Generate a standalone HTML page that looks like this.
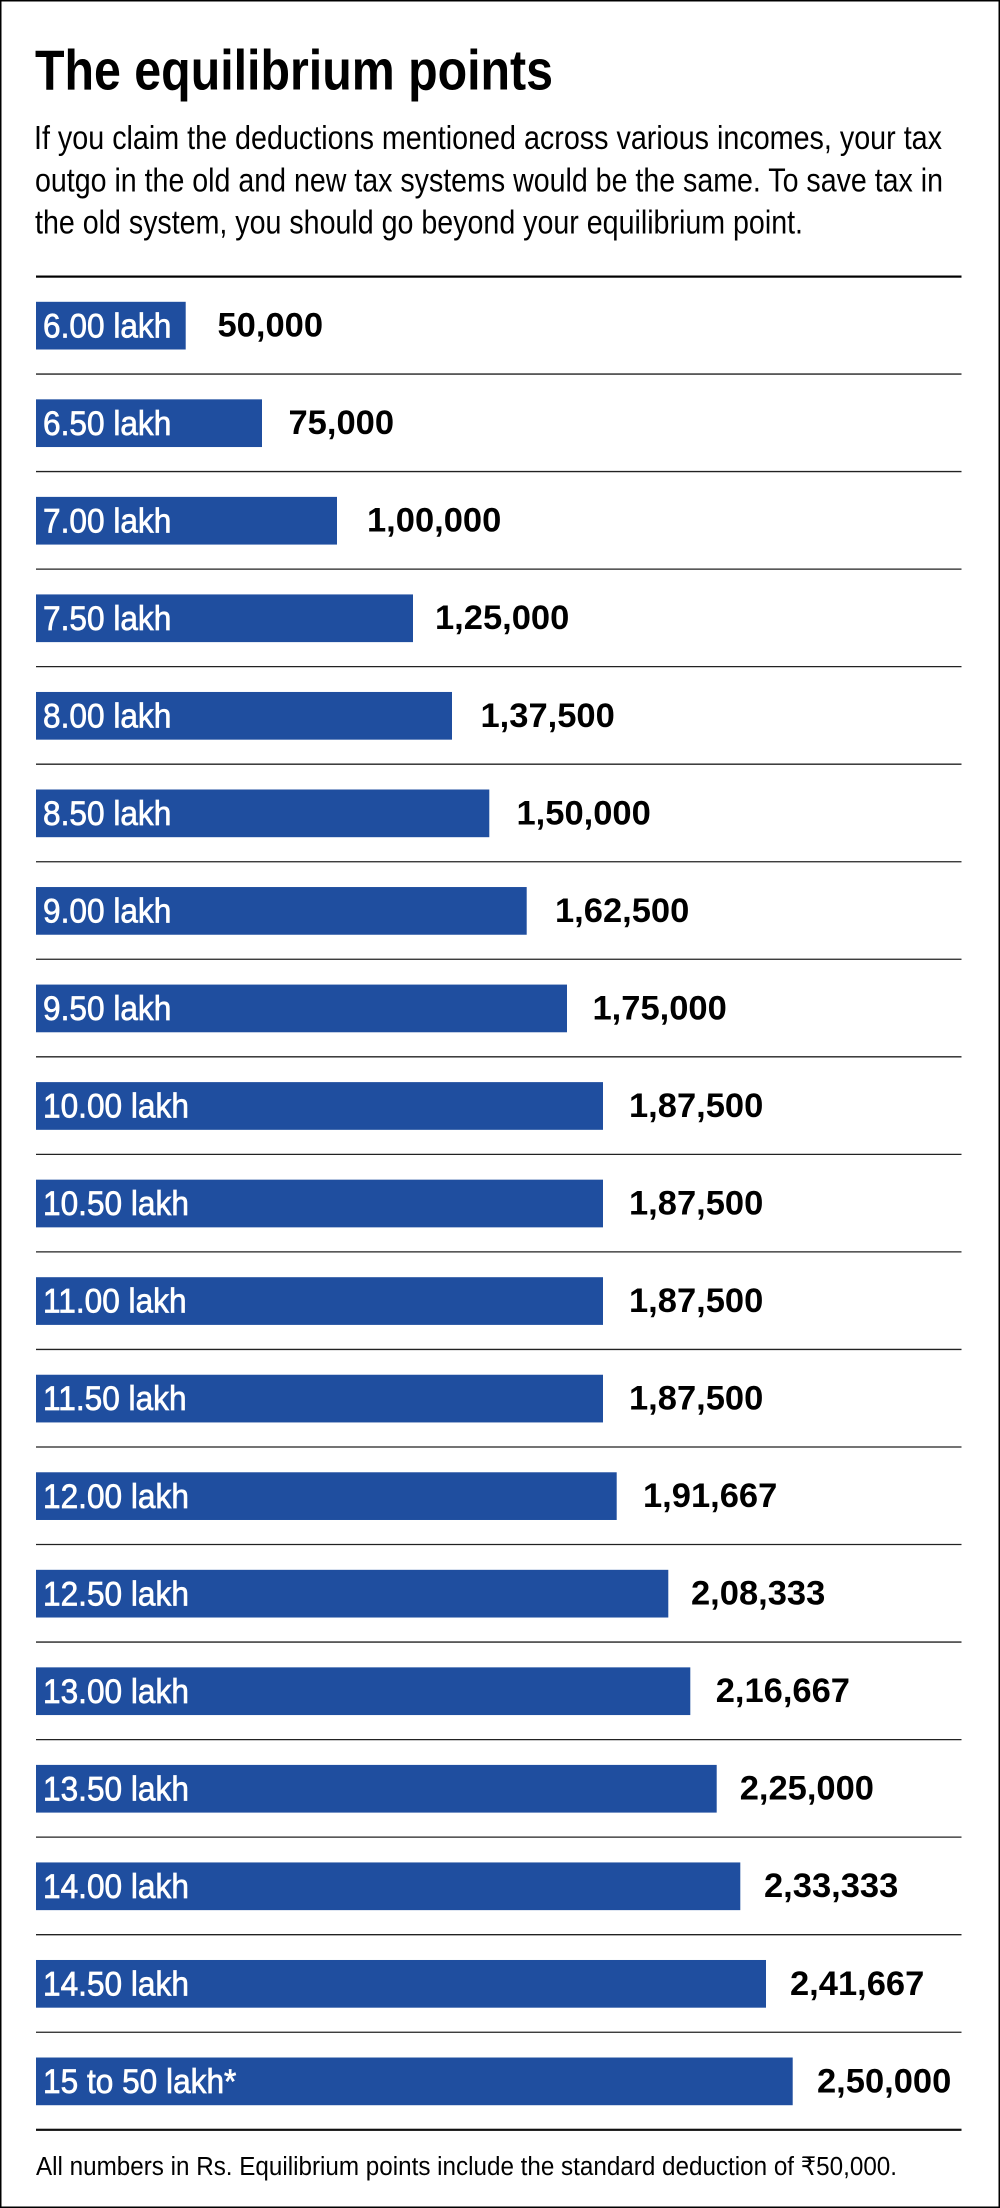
<!DOCTYPE html>
<html>
<head>
<meta charset="utf-8">
<style>
  html,body{margin:0;padding:0;background:#fff;}
  body{width:1000px;height:2208px;overflow:hidden;}
  svg{display:block;}
  .t{font-family:"Liberation Sans",Arial,sans-serif;}
  .lab{font-family:"Liberation Sans",Arial,sans-serif;font-size:34px;fill:#fff;stroke:#fff;stroke-width:0.7px;}
  .val{font-family:"Liberation Sans",Arial,sans-serif;font-size:34.5px;font-weight:bold;fill:#000;}
</style>
</head>
<body>
<svg width="1000" height="2208" viewBox="0 0 1000 2208" xmlns="http://www.w3.org/2000/svg">
  <rect x="0" y="0" width="1000" height="2208" fill="#fff"/>
  <rect x="0.75" y="0.75" width="998.5" height="2206.5" fill="none" stroke="#000" stroke-width="1.5"/>

  <!-- Title -->
  <text class="t" x="35" y="89.3" font-size="57" font-weight="bold" textLength="518" lengthAdjust="spacingAndGlyphs">The equilibrium points</text>

  <!-- Intro paragraph -->
  <text class="t" x="34" y="149" font-size="33.5" textLength="908" lengthAdjust="spacingAndGlyphs">If you claim the deductions mentioned across various incomes, your tax</text>
  <text class="t" x="35" y="191.5" font-size="33.5" textLength="908" lengthAdjust="spacingAndGlyphs">outgo in the old and new tax systems would be the same. To save tax in</text>
  <text class="t" x="35" y="233.5" font-size="33.5" textLength="768" lengthAdjust="spacingAndGlyphs">the old system, you should go beyond your equilibrium point.</text>

  <!-- Thick top / bottom rules -->
  <rect x="36" y="275.5" width="925.5" height="2.2" fill="#000"/>
  <rect x="36" y="2128.7" width="925.5" height="2.2" fill="#111"/>

  <!-- Row dividers -->
  <g stroke="#222" stroke-width="1.3">
    <line x1="36" x2="961.5" y1="374.04" y2="374.04"/>
    <line x1="36" x2="961.5" y1="471.58" y2="471.58"/>
    <line x1="36" x2="961.5" y1="569.12" y2="569.12"/>
    <line x1="36" x2="961.5" y1="666.66" y2="666.66"/>
    <line x1="36" x2="961.5" y1="764.2" y2="764.2"/>
    <line x1="36" x2="961.5" y1="861.74" y2="861.74"/>
    <line x1="36" x2="961.5" y1="959.28" y2="959.28"/>
    <line x1="36" x2="961.5" y1="1056.82" y2="1056.82"/>
    <line x1="36" x2="961.5" y1="1154.36" y2="1154.36"/>
    <line x1="36" x2="961.5" y1="1251.9" y2="1251.9"/>
    <line x1="36" x2="961.5" y1="1349.44" y2="1349.44"/>
    <line x1="36" x2="961.5" y1="1446.98" y2="1446.98"/>
    <line x1="36" x2="961.5" y1="1544.52" y2="1544.52"/>
    <line x1="36" x2="961.5" y1="1642.06" y2="1642.06"/>
    <line x1="36" x2="961.5" y1="1739.6" y2="1739.6"/>
    <line x1="36" x2="961.5" y1="1837.14" y2="1837.14"/>
    <line x1="36" x2="961.5" y1="1934.68" y2="1934.68"/>
    <line x1="36" x2="961.5" y1="2032.22" y2="2032.22"/>
  </g>

  <!-- Bars -->
  <g fill="#1f4e9f">
    <rect x="36" y="301.8" width="149.7" height="47.7"/>
    <rect x="36" y="399.34" width="226" height="47.7"/>
    <rect x="36" y="496.88" width="301" height="47.7"/>
    <rect x="36" y="594.42" width="377" height="47.7"/>
    <rect x="36" y="691.96" width="416" height="47.7"/>
    <rect x="36" y="789.5" width="453.3" height="47.7"/>
    <rect x="36" y="887.04" width="490.7" height="47.7"/>
    <rect x="36" y="984.58" width="531" height="47.7"/>
    <rect x="36" y="1082.12" width="567" height="47.7"/>
    <rect x="36" y="1179.66" width="567" height="47.7"/>
    <rect x="36" y="1277.2" width="567" height="47.7"/>
    <rect x="36" y="1374.74" width="567" height="47.7"/>
    <rect x="36" y="1472.28" width="580.7" height="47.7"/>
    <rect x="36" y="1569.82" width="632.3" height="47.7"/>
    <rect x="36" y="1667.36" width="654.3" height="47.7"/>
    <rect x="36" y="1764.9" width="680.7" height="47.7"/>
    <rect x="36" y="1862.44" width="704.3" height="47.7"/>
    <rect x="36" y="1959.98" width="730" height="47.7"/>
    <rect x="36" y="2057.52" width="756.7" height="47.7"/>
  </g>

  <!-- Bar labels -->
  <g class="lab">
    <text transform="translate(43,337.3) scale(0.93,1)">6.00 lakh</text>
    <text transform="translate(43,434.84) scale(0.93,1)">6.50 lakh</text>
    <text transform="translate(43,532.38) scale(0.93,1)">7.00 lakh</text>
    <text transform="translate(43,629.92) scale(0.93,1)">7.50 lakh</text>
    <text transform="translate(43,727.46) scale(0.93,1)">8.00 lakh</text>
    <text transform="translate(43,825) scale(0.93,1)">8.50 lakh</text>
    <text transform="translate(43,922.54) scale(0.93,1)">9.00 lakh</text>
    <text transform="translate(43,1020.08) scale(0.93,1)">9.50 lakh</text>
    <text transform="translate(43,1117.62) scale(0.93,1)">10.00 lakh</text>
    <text transform="translate(43,1215.16) scale(0.93,1)">10.50 lakh</text>
    <text transform="translate(43,1312.7) scale(0.93,1)">11.00 lakh</text>
    <text transform="translate(43,1410.24) scale(0.93,1)">11.50 lakh</text>
    <text transform="translate(43,1507.78) scale(0.93,1)">12.00 lakh</text>
    <text transform="translate(43,1605.32) scale(0.93,1)">12.50 lakh</text>
    <text transform="translate(43,1702.86) scale(0.93,1)">13.00 lakh</text>
    <text transform="translate(43,1800.4) scale(0.93,1)">13.50 lakh</text>
    <text transform="translate(43,1897.94) scale(0.93,1)">14.00 lakh</text>
    <text transform="translate(43,1995.48) scale(0.93,1)">14.50 lakh</text>
    <text transform="translate(43,2093.02) scale(0.93,1)">15 to 50 lakh*</text>
  </g>

  <!-- Values -->
  <g class="val">
    <text x="217.5" y="336.6">50,000</text>
    <text x="288.5" y="434.14">75,000</text>
    <text x="367" y="531.68">1,00,000</text>
    <text x="435" y="629.22">1,25,000</text>
    <text x="480.5" y="726.76">1,37,500</text>
    <text x="516.5" y="824.3">1,50,000</text>
    <text x="555" y="921.84">1,62,500</text>
    <text x="592.5" y="1019.38">1,75,000</text>
    <text x="629" y="1116.92">1,87,500</text>
    <text x="629" y="1214.46">1,87,500</text>
    <text x="629" y="1312">1,87,500</text>
    <text x="629" y="1409.54">1,87,500</text>
    <text x="643" y="1507.08">1,91,667</text>
    <text x="691" y="1604.62">2,08,333</text>
    <text x="715.7" y="1702.16">2,16,667</text>
    <text x="739.7" y="1799.7">2,25,000</text>
    <text x="764" y="1897.24">2,33,333</text>
    <text x="790" y="1994.78">2,41,667</text>
    <text x="817" y="2092.32">2,50,000</text>
  </g>

  <!-- Footer -->
  <text class="t" x="36" y="2175" font-size="25.5" textLength="861" lengthAdjust="spacingAndGlyphs">All numbers in Rs. Equilibrium points include the standard deduction of ₹50,000.</text>
</svg>
</body>
</html>
